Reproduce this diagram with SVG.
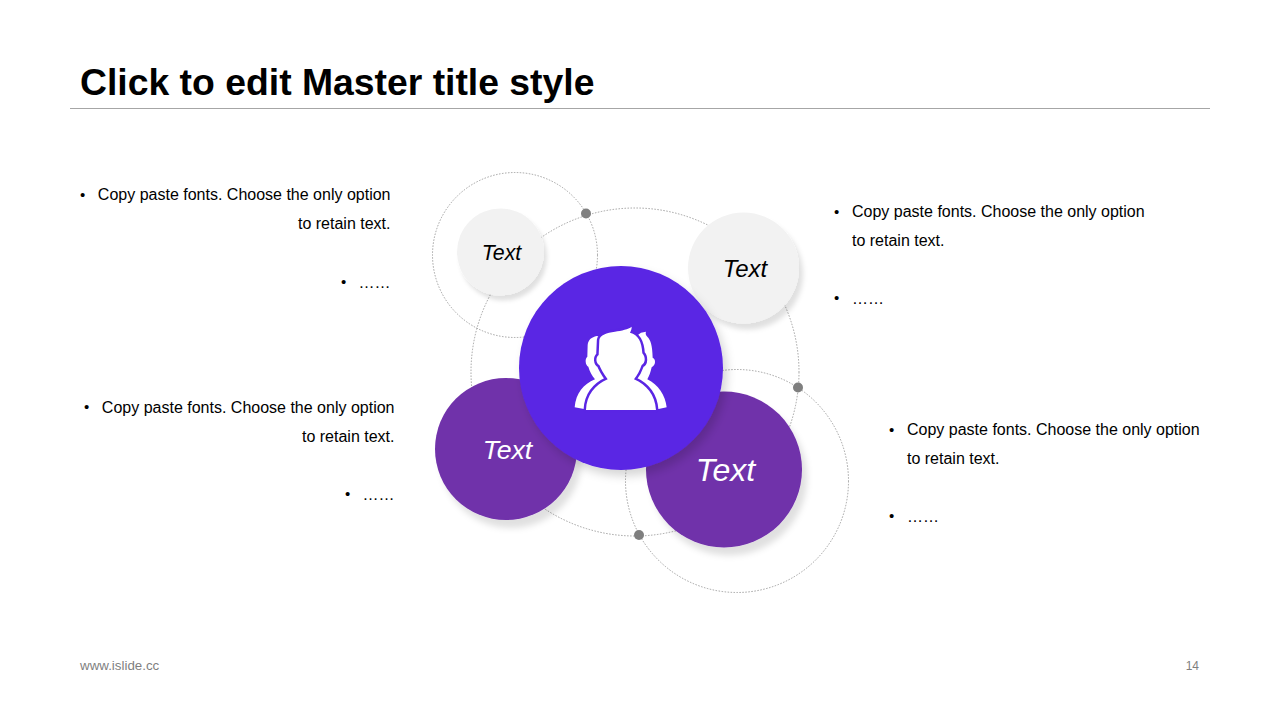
<svg xmlns="http://www.w3.org/2000/svg" width="1280" height="720" viewBox="0 0 1280 720">
<style>
text{font-family:"Liberation Sans",Arial,sans-serif}
.b{font-size:16px;fill:#000}
.d{font-size:15px;fill:#000}
.e{text-anchor:end}
.ring{fill:none;stroke:#8c8c8c;stroke-width:.8;stroke-dasharray:1.5 1.5}
.dot{fill:#7f7f7f}
.n{font-style:italic;text-anchor:middle}
.light{fill:#f2f2f2}
.purple{fill:#7030aa}
</style>
<defs>
<filter id="s1" x="-30%" y="-30%" width="170%" height="170%"><feDropShadow dx="3" dy="5" stdDeviation="2" flood-color="#000" flood-opacity=".12"/></filter>
<filter id="s2" x="-30%" y="-30%" width="170%" height="170%"><feDropShadow dx="4" dy="6" stdDeviation="2.500" flood-color="#000" flood-opacity=".12"/></filter>
<filter id="s3" x="-30%" y="-30%" width="170%" height="170%"><feDropShadow dx="5" dy="8" stdDeviation="3" flood-color="#000" flood-opacity=".12"/></filter>
<filter id="s4" x="-30%" y="-30%" width="170%" height="170%"><feDropShadow dx="4" dy="6" stdDeviation="5" flood-color="#000" flood-opacity=".16"/></filter>
</defs>
<rect width="1280" height="720" fill="#fff"/>
<text id="title" x="80" y="95" font-size="37.330" font-weight="700">Click to edit Master title style</text>
<line x1="70" y1="108.500" x2="1210" y2="108.500" stroke="#a6a6a6"/>
<g id="connectors">
<circle class="ring" cx="515" cy="255" r="82.500"/>
<circle class="ring" cx="635" cy="372" r="164"/>
<circle class="ring" cx="737" cy="481" r="111.500"/>
<circle class="dot" cx="586" cy="213.500" r="5"/>
<circle class="dot" cx="798" cy="387.500" r="5"/>
<circle class="dot" cx="639" cy="535" r="5"/>
</g>
<g id="node-tl"><circle class="light" cx="500.500" cy="252" r="43.500" filter="url(#s1)"/><text class="n" x="501.500" y="260" font-size="21.330">Text</text></g>
<g id="node-tr"><circle class="light" cx="743.500" cy="268" r="55.500" filter="url(#s2)"/><text class="n" x="745" y="277" font-size="24">Text</text></g>
<g id="node-bl"><circle class="purple" cx="506" cy="449" r="71" filter="url(#s3)"/><text class="n" x="507.500" y="459" font-size="26.670" fill="#fff">Text</text></g>
<g id="node-br"><circle class="purple" cx="724" cy="469.500" r="78" filter="url(#s3)"/><text class="n" x="725.500" y="481" font-size="32" fill="#fff">Text</text></g>
<g id="node-center">
<circle cx="621" cy="368" r="102" fill="#5a25e4" filter="url(#s4)"/>
<g transform="translate(560 310) scale(.3333)" fill="#fff">
<path d="M110,78C95,82 85,88 83,105L82,140C74,146 76,165 85,170C89,184 96,197 105,208C70,222 48,250 44,292L72,297L200,297L200,100Z"/>
<path d="M243,68L258,65C256,70 257,75 262,80C272,90 277,105 278,143C288,148 288,164 275,172C272,185 268,198 262,208C295,225 316,255 320,292L296,297L200,297L200,100Z"/>
<path stroke="#5a25e4" stroke-width="15" paint-order="stroke" stroke-linejoin="round" d="M78,300C80,255 105,225 143,208C130,190 122,175 118,165C108,160 106,142 116,135L118,90C120,75 140,68 165,65C185,62 205,58 215,50C215,58 213,62 210,68C235,75 245,95 247,130C257,140 257,160 245,165C240,180 232,195 222,208C260,225 285,255 288,300Z"/>
</g>
</g>
<g id="text-tl">
<text class="d" x="80" y="200">•</text><text class="b e" x="390.500" y="200">Copy paste fonts. Choose the only option</text>
<text class="b e" x="390.500" y="229">to retain text.</text>
<text class="d" x="341" y="287">•</text><text class="b e" x="390.500" y="288">……</text>
</g>
<g id="text-bl">
<text class="d" x="84" y="412">•</text><text class="b e" x="394.500" y="412.500">Copy paste fonts. Choose the only option</text>
<text class="b e" x="394.500" y="442">to retain text.</text>
<text class="d" x="345" y="499">•</text><text class="b e" x="394.500" y="500">……</text>
</g>
<g id="text-tr">
<text class="d" x="834" y="217">•</text><text class="b" x="852" y="217">Copy paste fonts. Choose the only option</text>
<text class="b" x="852" y="246">to retain text.</text>
<text class="d" x="834" y="303">•</text><text class="b" x="852" y="304">……</text>
</g>
<g id="text-br">
<text class="d" x="889" y="435">•</text><text class="b" x="907" y="435">Copy paste fonts. Choose the only option</text>
<text class="b" x="907" y="464">to retain text.</text>
<text class="d" x="889" y="521">•</text><text class="b" x="907" y="522">……</text>
</g>
<text id="footer" x="80" y="670" font-size="13.330" fill="#7f7f7f">www.islide.cc</text>
<text id="page" x="1199" y="670" font-size="12" fill="#7f7f7f" text-anchor="end">14</text>
</svg>
